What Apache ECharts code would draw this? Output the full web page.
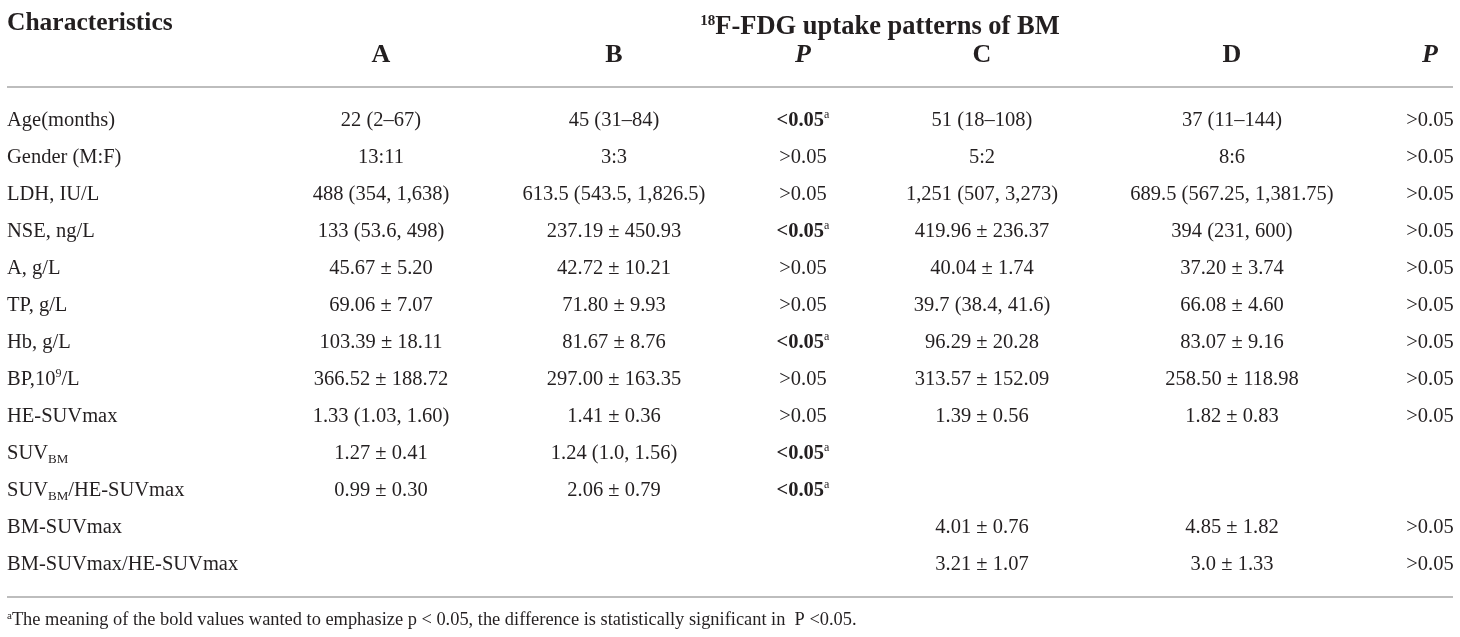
<!DOCTYPE html>
<html>
<head>
<meta charset="utf-8">
<script src="https://cdn.jsdelivr.net/npm/echarts@6/dist/echarts.min.js"></script>
<style>
  html, body { margin: 0; padding: 0; background: #fff; }
  #table1 { width: 1460px; height: 637px; }
</style>
</head>
<body>
<div id="table1"></div>
<script>
// table values
var rowNames = ['Age(months)', 'Gender (M:F)', 'LDH, IU/L', 'NSE, ng/L', 'A, g/L', 'TP, g/L', 'Hb, g/L',
    'BP,10{sup|9}/L', 'HE-SUVmax', 'SUV{sub|BM}', 'SUV{sub|BM}/HE-SUVmax', 'BM-SUVmax', 'BM-SUVmax/HE-SUVmax'];
var groupA = ['22 (2–67)', '13:11', '488 (354, 1,638)', '133 (53.6, 498)', '45.67 ± 5.20', '69.06 ± 7.07',
    '103.39 ± 18.11', '366.52 ± 188.72', '1.33 (1.03, 1.60)', '1.27 ± 0.41', '0.99 ± 0.30', '', ''];
var groupB = ['45 (31–84)', '3:3', '613.5 (543.5, 1,826.5)', '237.19 ± 450.93', '42.72 ± 10.21', '71.80 ± 9.93',
    '81.67 ± 8.76', '297.00 ± 163.35', '1.41 ± 0.36', '1.24 (1.0, 1.56)', '2.06 ± 0.79', '', ''];
var pAB = ['{b|<0.05}{sup|a}', '>0.05', '>0.05', '{b|<0.05}{sup|a}', '>0.05', '>0.05', '{b|<0.05}{sup|a}',
    '>0.05', '>0.05', '{b|<0.05}{sup|a}', '{b|<0.05}{sup|a}', '', ''];
var groupC = ['51 (18–108)', '5:2', '1,251 (507, 3,273)', '419.96 ± 236.37', '40.04 ± 1.74', '39.7 (38.4, 41.6)',
    '96.29 ± 20.28', '313.57 ± 152.09', '1.39 ± 0.56', '', '', '4.01 ± 0.76', '3.21 ± 1.07'];
var groupD = ['37 (11–144)', '8:6', '689.5 (567.25, 1,381.75)', '394 (231, 600)', '37.20 ± 3.74', '66.08 ± 4.60',
    '83.07 ± 9.16', '258.50 ± 118.98', '1.82 ± 0.83', '', '', '4.85 ± 1.82', '3.0 ± 1.33'];
var pCD = ['>0.05', '>0.05', '>0.05', '>0.05', '>0.05', '>0.05', '>0.05', '>0.05', '>0.05', '', '', '>0.05', '>0.05'];
var colHeads = ['A', 'B', 'P', 'C', 'D', 'P'];
var footnote = '{sup|a}The meaning of the bold values wanted to emphasize p < 0.05, the difference is statistically significant in  P <0.05.';

// layout (x axis runs 0..1460 over the full width)
var colX = [7, 381, 614, 803, 982, 1232, 1430];
var FONT = 'Liberation Serif';
var INK = '#231f20';
var RULE = '#bdbdbd';

var rich = {
    b: { fontFamily: FONT, fontSize: 20.5, fontWeight: 'bold', color: INK, lineHeight: 24 },
    sup: { fontFamily: FONT, fontSize: 12, color: INK, verticalAlign: 'top', lineHeight: 12 },
    sub: { fontFamily: FONT, fontSize: 13, color: INK, verticalAlign: 'bottom', lineHeight: 14 }
};

var columns = [rowNames, groupA, groupB, pAB, groupC, groupD, pCD];
var cells = [];
columns.forEach(function (col, c) {
    col.forEach(function (txt, r) {
        if (txt === '') return;
        cells.push({
            value: [colX[c], r],
            label: { formatter: txt, align: c === 0 ? 'left' : 'center' }
        });
    });
});

var graphics = [];
function txt(x, y, text, opt) {
    graphics.push({
        type: 'text', x: x, y: y, silent: true,
        style: Object.assign({
            text: text, fill: INK, font: 'bold 26px "' + FONT + '"',
            align: 'center', verticalAlign: 'middle'
        }, opt || {})
    });
}
txt(colX[0], 23, 'Characteristics', { align: 'left', font: 'bold 25.5px "' + FONT + '"' });
txt(880, 27, '{s|18}F-FDG uptake patterns of BM', {
    font: 'bold 26.5px "' + FONT + '"',
    rich: { s: { fontFamily: FONT, fontSize: 15, fontWeight: 'bold', verticalAlign: 'top', lineHeight: 14 } }
});
colHeads.forEach(function (h, i) {
    txt(colX[i + 1], 55, h, h === 'P' ? { font: 'italic bold 26px "' + FONT + '"' } : {});
});
[87, 597].forEach(function (y) {
    graphics.push({ type: 'line', silent: true, shape: { x1: 7, y1: y, x2: 1453, y2: y },
        style: { stroke: RULE, lineWidth: 2 } });
});
txt(colX[0], 620, footnote, {
    align: 'left', font: '18.4px "' + FONT + '"',
    rich: { sup: { fontFamily: FONT, fontSize: 11, verticalAlign: 'top', lineHeight: 10 } }
});

try {
    var table1 = echarts.init(document.getElementById('table1'));
    table1.setOption({
        animation: false,
        backgroundColor: '#fff',
        grid: { left: 0, right: 0, top: 102.5, height: 481 },
        xAxis: { type: 'value', min: 0, max: 1460, show: false },
        yAxis: { type: 'category', data: rowNames, inverse: true, show: false },
        series: [{
            type: 'scatter',
            silent: true,
            symbolSize: 0,
            itemStyle: { color: 'transparent' },
            label: {
                show: true, position: 'inside', verticalAlign: 'middle',
                fontFamily: FONT, fontSize: 20.5, color: INK, lineHeight: 24,
                textBorderWidth: 0, opacity: 1,
                rich: rich
            },
            data: cells
        }],
        graphic: graphics
    });
} catch (e) {
    console.log(e);
}
</script>
</body>
</html>
